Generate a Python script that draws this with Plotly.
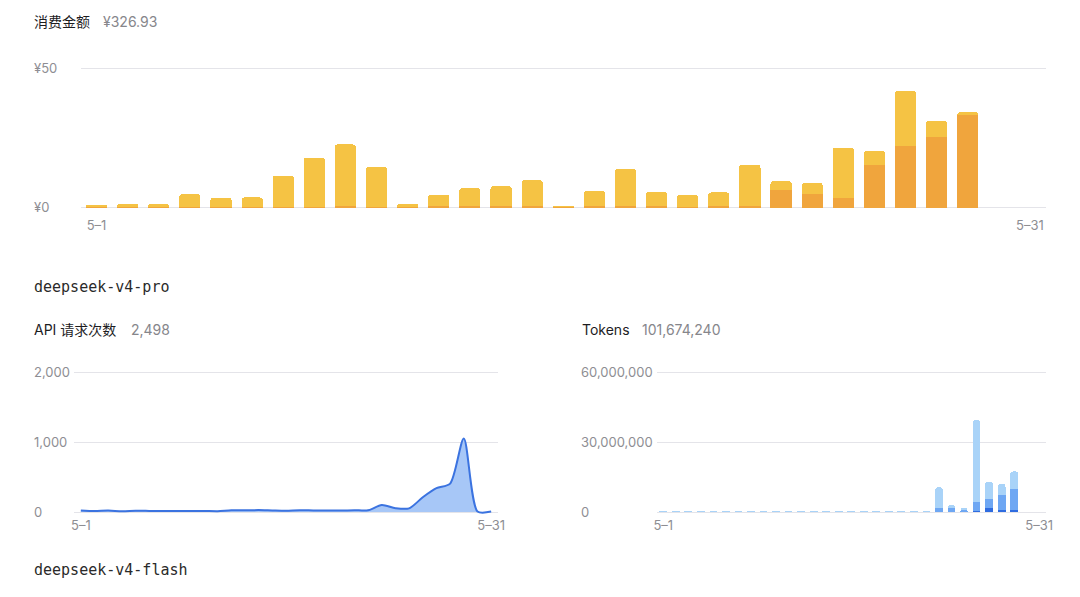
import plotly.graph_objects as go

W, H = 1080, 597

# ---------------- data ----------------
days = ["5–1", "5–2", "5–3", "5–4", "5–5", "5–6", "5–7", "5–8", "5–9", "5–10",
        "5–11", "5–12", "5–13", "5–14", "5–15", "5–16", "5–17", "5–18", "5–19", "5–20",
        "5–21", "5–22", "5–23", "5–24", "5–25", "5–26", "5–27", "5–28", "5–29", "5–30", "5–31"]
x_ticks = ["5–1", "5–31"]

# spend (¥), stacked: orange bottom + yellow top
spend_orange = [0.3, 0.2, 0.3, 0.2, 0.1, 0.2, 0.2, 0.2, 0.6, 0.2,
                0.2, 0.7, 0.6, 0.6, 0.7, 0.4, 0.7, 0.7, 0.6, 0.3,
                0.6, 0.6, 6.1, 4.8, 3.3, 15.2, 22.1, 25.1, 33.3, None, None]
spend_yellow = [0.3, 1.2, 1.0, 4.6, 3.4, 3.4, 11.2, 17.7, 22.0, 14.4,
                1.2, 3.9, 6.3, 7.1, 9.1, 0.1, 5.3, 13.1, 5.1, 4.2,
                4.8, 14.8, 3.4, 4.0, 18.1, 5.0, 19.6, 5.9, 0.9, None, None]
spend_ticks = [0, 50]
spend_ticktext = ["¥0", "¥50"]

# API requests (deepseek-v4-pro)
requests = [22, 14, 20, 10, 17, 16, 15, 15, 14, 16,
            12, 25, 24, 27, 22, 18, 25, 22, 21, 20,
            26, 24, 100, 55, 52, 210, 340, 405, 1050, 8, 6]
req_ticks = [0, 1000, 2000]
req_ticktext = ["0", "1,000", "2,000"]

# tokens (millions), stacked: dark / medium / light
tok_dark = [0, 0, 0, 0, 0, 0, 0, 0, 0, 0,
            0, 0, 0, 0, 0, 0, 0, 0, 0, 0,
            0, 0, 0.2, 0.1, 0.1, 0.3, 1.9, 1.0, 1.0, 0, 0]
tok_medium = [0, 0, 0, 0, 0, 0, 0, 0, 0, 0,
              0, 0.05, 0.05, 0.05, 0.05, 0.05, 0.05, 0.05, 0.05, 0.05,
              0.05, 0.05, 1.7, 1.5, 1.1, 4.1, 3.5, 6.3, 9.0, 0, 0]
tok_light = [0.1, 0.2, 0.2, 0.2, 0.05, 0.15, 0.05, 0.05, 0.15, 0.05,
             0.05, 0.3, 0.3, 0.3, 0.25, 0.3, 0.25, 0.3, 0.25, 0.2,
             0.3, 0.3, 8.7, 1.4, 0.2, 35.0, 7.6, 4.8, 7.4, 0, 0]
tok_ticks = [0, 30, 60]
tok_ticktext = ["0", "30,000,000", "60,000,000"]

# ---------------- styles ----------------
YELLOW = "#F5C344"
ORANGE = "#F0A53D"
BLUE_LINE = "#3B73E0"
BLUE_FILL = "#A7C7F7"
TOK_LIGHT = "#A9D3F8"
TOK_MED = "#6EA7F3"
TOK_DARK = "#2F6CE0"
GRID = "#E4E4E9"
TICK_COLOR = "#8E8E93"
TITLE_COLOR = "#1D1D1F"
VALUE_COLOR = "#86868B"
SANS = "Inter, 'Noto Sans CJK SC', sans-serif"
MONO = "'DejaVu Sans Mono', monospace"


def xdom(x0, x1):
    return [x0 / W, x1 / W]


def ycfg(top_px, bot_px, vmax, pad=2):
    u = vmax / (bot_px - top_px)
    return dict(range=[-pad * u, vmax + pad * u],
                domain=[1 - (bot_px + pad) / H, 1 - (top_px - pad) / H])


fig = go.Figure()

# top: spend
fig.add_trace(go.Bar(x=days, y=spend_orange, marker=dict(color=ORANGE, line=dict(width=0)),
                     width=0.68, xaxis="x", yaxis="y", hoverinfo="skip"))
fig.add_trace(go.Bar(x=days, y=spend_yellow, marker=dict(color=YELLOW, line=dict(width=0)),
                     width=0.68, xaxis="x", yaxis="y", hoverinfo="skip"))

# bottom-left: requests
fig.add_trace(go.Scatter(x=days, y=requests, mode="lines",
                         line=dict(color=BLUE_LINE, width=2, shape="spline", smoothing=0.75),
                         fill="tozeroy", fillcolor=BLUE_FILL,
                         xaxis="x2", yaxis="y2", hoverinfo="skip"))

# bottom-right: tokens
for vals, col in ((tok_dark, TOK_DARK), (tok_medium, TOK_MED), (tok_light, TOK_LIGHT)):
    fig.add_trace(go.Bar(x=days, y=vals, marker=dict(color=col, line=dict(width=0)),
                         width=0.62, xaxis="x3", yaxis="y3", hoverinfo="skip"))

tickfont = dict(family=SANS, size=13, color=TICK_COLOR)

xbase = dict(type="category", categoryorder="array", categoryarray=days,
             tickmode="array", tickvals=x_ticks, ticktext=x_ticks,
             showgrid=False, zeroline=False, showline=False, ticks="",
             tickfont=tickfont, fixedrange=True, automargin=False,
             range=[-0.5, len(days) - 0.5])
ybase = dict(side="right", anchor="free", showgrid=True, gridcolor=GRID, gridwidth=1,
             zeroline=False, showline=False, ticks="", tickfont=tickfont,
             tickmode="array", fixedrange=True, automargin=False)

y1 = ycfg(68, 207.5, 50)
y2 = ycfg(372, 512, 2000)
y3 = ycfg(372, 512, 60)

fig.update_layout(
    width=W, height=H,
    margin=dict(l=0, r=0, t=0, b=0, autoexpand=False),
    paper_bgcolor="white", plot_bgcolor="white",
    showlegend=False,
    barmode="stack",
    barcornerradius=3,
    xaxis=dict(xbase, domain=xdom(81, 1045.5), anchor="y", ticklabelstandoff=6),
    yaxis=dict(ybase, range=y1["range"], domain=y1["domain"], position=33 / W,
               tickvals=spend_ticks, ticktext=spend_ticktext),
    xaxis2=dict(xbase, domain=xdom(74, 498), anchor="y2", ticklabelstandoff=2),
    yaxis2=dict(ybase, range=y2["range"], domain=y2["domain"], position=33 / W,
                tickvals=req_ticks, ticktext=req_ticktext),
    xaxis3=dict(xbase, domain=xdom(657, 1045.5), anchor="y3", ticklabelstandoff=2),
    yaxis3=dict(ybase, range=y3["range"], domain=y3["domain"], position=580 / W,
                tickvals=tok_ticks, ticktext=tok_ticktext),
)


def label(x, y, text, color, size=14, family=SANS):
    fig.add_annotation(x=x / W, y=1 - y / H, xref="paper", yref="paper",
                       xanchor="left", yanchor="middle", showarrow=False, borderpad=0,
                       text=text, font=dict(family=family, size=size, color=color))


label(33, 21, "消费金额", TITLE_COLOR)
label(102, 21, "¥326.93", VALUE_COLOR)
label(33, 287, "deepseek-v4-pro", "#2A2A2A", size=15, family=MONO)
label(33, 330, "API 请求次数", TITLE_COLOR)
label(130, 330, "2,498", VALUE_COLOR)
label(581, 330, "Tokens", TITLE_COLOR)
label(641, 330, "101,674,240", VALUE_COLOR)
label(33, 570, "deepseek-v4-flash", "#2A2A2A", size=15, family=MONO)

fig.write_html("out.html")
